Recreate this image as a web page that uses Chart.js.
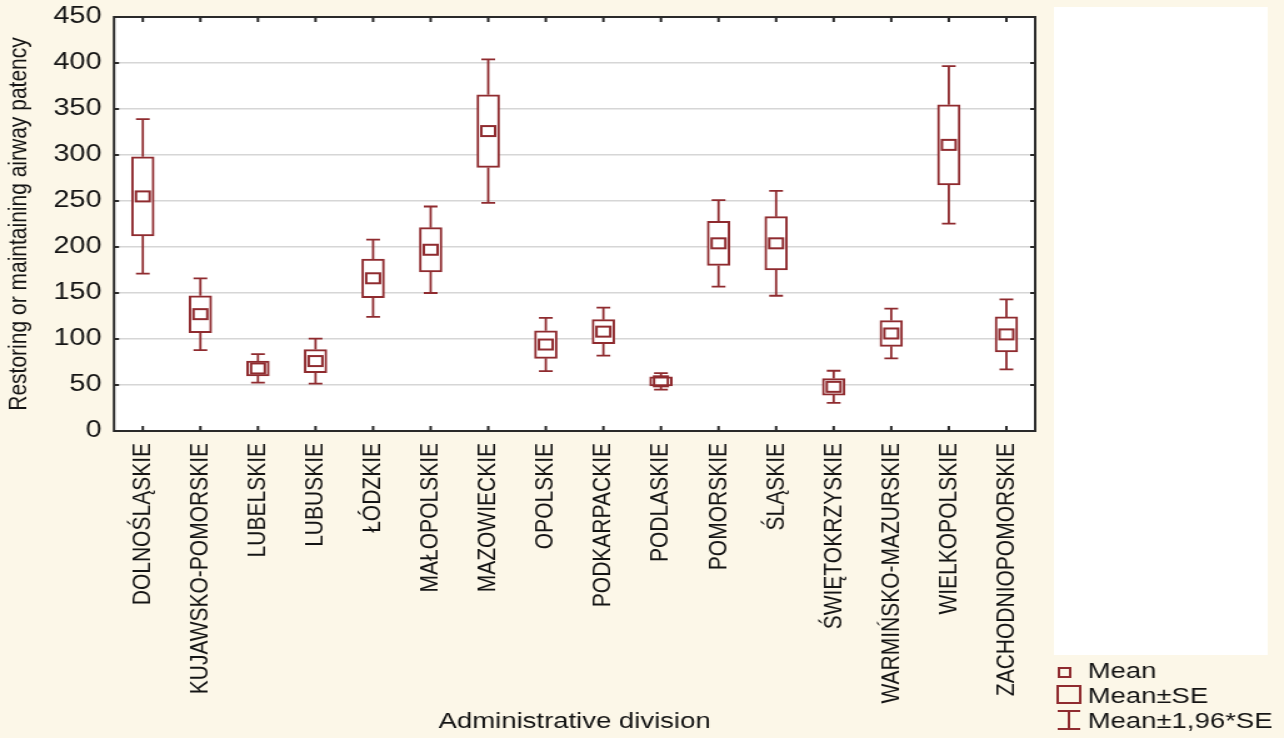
<!DOCTYPE html>
<html>
<head>
<meta charset="utf-8">
<script src="https://cdn.jsdelivr.net/npm/chart.js@4.4.1/dist/chart.umd.min.js"></script>
<style>
  html, body { margin: 0; padding: 0; background: #fcf7e8; overflow: hidden; }
  #wrap { position: absolute; left: 0; top: 0; width: 1027px; height: 738px; transform: scaleX(1.2502); transform-origin: 0 0; }
</style>
</head>
<body>
<div id="wrap"><canvas id="chart"></canvas></div>
<script>
// values
const divisions = ['DOLNOŚLĄSKIE', 'KUJAWSKO-POMORSKIE', 'LUBELSKIE', 'LUBUSKIE', 'ŁÓDZKIE', 'MAŁOPOLSKIE',
    'MAZOWIECKIE', 'OPOLSKIE', 'PODKARPACKIE', 'PODLASKIE', 'POMORSKIE', 'ŚLĄSKIE', 'ŚWIĘTOKRZYSKIE',
    'WARMIŃSKO-MAZURSKIE', 'WIELKOPOLSKIE', 'ZACHODNIOPOMORSKIE'];
const means = [255, 127, 68, 76, 166, 197, 326, 94, 108, 54, 204, 204, 48, 106, 311, 105];
const se = [43, 20, 8, 12.5, 21, 24, 39.5, 15, 13, 5, 24, 29, 9, 14, 43.5, 19];
const ci196 = [84, 39, 15.5, 24.5, 42, 47, 78, 29, 26, 9, 47, 57, 17.5, 27, 85.5, 38];
const yTicks = [0, 50, 100, 150, 200, 250, 300, 350, 400, 450];
const legendLabels = ['Mean', 'Mean±SE', 'Mean±1,96*SE'];

const RED = '#8f2b2f';
const INK = '#141414';
const FONT = "'Liberation Sans', Arial, sans-serif";

const backgroundPlugin = {
    id: 'panels',
    beforeDraw(chart) {
        const { ctx, chartArea: a } = chart;
        ctx.save();
        ctx.fillStyle = '#ffffff';
        ctx.fillRect(a.left, a.top, a.right - a.left, a.bottom - a.top);
        // white panel on the right
        ctx.fillRect(843, 7, 171, 648);
        ctx.restore();
    }
};

const whiskerPlugin = {
    id: 'whiskers',
    afterDatasetsDraw(chart) {
        const { ctx, scales: { x, y } } = chart;
        ctx.save();
        ctx.strokeStyle = RED;
        ctx.lineWidth = 1.8;
        means.forEach((m, i) => {
            const cx = x.getPixelForValue(i);
            const top = y.getPixelForValue(m + ci196[i]);
            const boxTop = y.getPixelForValue(m + se[i]);
            const boxBot = y.getPixelForValue(m - se[i]);
            const bot = y.getPixelForValue(m - ci196[i]);
            const ym = y.getPixelForValue(m);
            ctx.beginPath();
            ctx.moveTo(cx, top); ctx.lineTo(cx, boxTop);
            ctx.moveTo(cx, boxBot); ctx.lineTo(cx, bot);
            ctx.moveTo(cx - 5.5, top); ctx.lineTo(cx + 5.5, top);
            ctx.moveTo(cx - 5.5, bot); ctx.lineTo(cx + 5.5, bot);
            ctx.stroke();
            ctx.lineWidth = 2;
            ctx.strokeRect(cx - 5.5, ym - 5, 11, 10);
            ctx.lineWidth = 1.8;
        });
        ctx.restore();
    }
};

const framePlugin = {
    id: 'frame',
    afterDraw(chart) {
        const { ctx, chartArea: a, scales: { x, y } } = chart;
        ctx.save();
        ctx.strokeStyle = '#2a2a2a';
        ctx.lineWidth = 2;
        ctx.strokeRect(a.left, a.top, a.right - a.left, a.bottom - a.top);
        ctx.beginPath();
        divisions.forEach((d, i) => {
            const px = x.getPixelForValue(i);
            ctx.moveTo(px, a.top); ctx.lineTo(px, a.top + 5);
            ctx.moveTo(px, a.bottom); ctx.lineTo(px, a.bottom - 5);
        });
        yTicks.forEach(v => {
            const py = y.getPixelForValue(v);
            ctx.moveTo(a.left, py); ctx.lineTo(a.left + 4, py);
            ctx.moveTo(a.right, py); ctx.lineTo(a.right - 4, py);
        });
        ctx.stroke();

        // legend
        ctx.font = '22px ' + FONT;
        ctx.fillStyle = INK;
        ctx.textBaseline = 'middle';
        ctx.textAlign = 'left';
        const rows = [672, 697, 722];
        legendLabels.forEach((t, i) => ctx.fillText(t, 870, rows[i]));
        ctx.strokeStyle = RED;
        ctx.lineWidth = 2;
        ctx.strokeRect(847, 668, 9, 9);
        ctx.strokeRect(846, 686, 18, 17);
        ctx.beginPath();
        ctx.moveTo(846, 711); ctx.lineTo(864, 711);
        ctx.moveTo(855, 711); ctx.lineTo(855, 729);
        ctx.moveTo(846, 729); ctx.lineTo(864, 729);
        ctx.stroke();
        ctx.restore();
    }
};

new Chart(document.getElementById('chart'), {
    type: 'bar',
    data: {
        labels: divisions,
        datasets: [{
            label: 'Mean±SE',
            data: means.map((m, i) => [m - se[i], m + se[i]]),
            backgroundColor: '#ffffff',
            borderColor: RED,
            borderWidth: 2,
            borderSkipped: false,
            barThickness: 18
        }]
    },
    options: {
        responsive: true,
        maintainAspectRatio: false,
        animation: false,
        events: [],
        layout: { padding: { left: 0, top: 17, right: 199, bottom: 0 } },
        plugins: { legend: { display: false }, tooltip: { enabled: false } },
        scales: {
            x: {
                grid: { display: false, drawTicks: false },
                border: { display: false },
                ticks: {
                    autoSkip: false, minRotation: 90, maxRotation: 90, padding: 12,
                    color: INK, font: { family: FONT, size: 21 }
                },
                title: {
                    display: true, text: 'Administrative division', color: INK,
                    font: { family: FONT, size: 22 }, padding: { top: 0, bottom: 3 }
                },
                afterFit: s => { s.height = 307; s.paddingLeft = 0; s.paddingRight = 0; }
            },
            y: {
                min: 0, max: 450,
                grid: { color: '#d6d6d6', lineWidth: 1.5, drawTicks: false },
                border: { display: false },
                ticks: {
                    stepSize: 50, padding: 10, color: INK,
                    font: { family: FONT, size: 23 }
                },
                title: {
                    display: true, text: 'Restoring or maintaining airway patency', color: INK,
                    font: { family: FONT, size: 21 }, padding: { top: 3, bottom: 0 }
                },
                afterFit: s => { s.width = 91.2; s.paddingTop = 0; s.paddingBottom = 0; }
            }
        }
    },
    plugins: [backgroundPlugin, whiskerPlugin, framePlugin]
});
</script>
</body>
</html>
